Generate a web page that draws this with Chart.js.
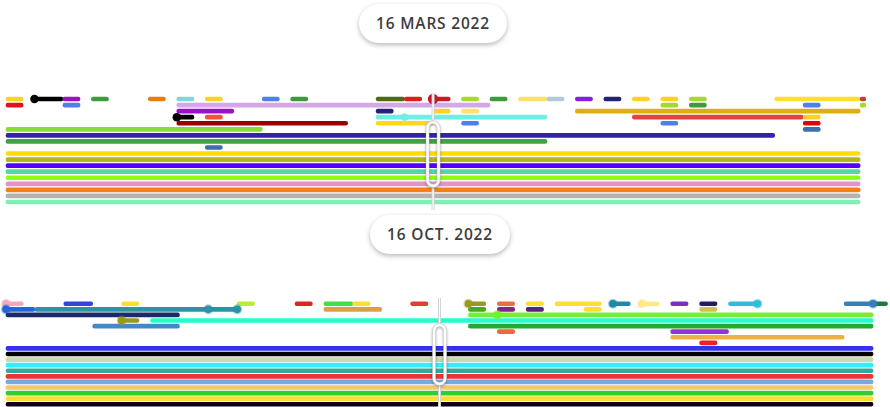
<!DOCTYPE html>
<html>
<head>
<meta charset="utf-8">
<script src="https://cdn.jsdelivr.net/npm/chart.js@4.4.0/dist/chart.umd.min.js"></script>
<style>
body{margin:0;background:#fff;width:890px;height:407px;overflow:hidden;position:relative;font-family:"Open Sans",sans-serif}
canvas{position:absolute;left:0}
#topChart{top:90px}
#bottomChart{top:296px}
.pill{position:absolute;height:39px;line-height:39px;border-radius:20px;background:#fff;box-shadow:0 2px 5px rgba(0,0,0,.28);text-align:center;font-size:15.5px;font-weight:600;color:#3d3d3d;letter-spacing:.8px}
</style>
</head>
<body>
<div class="pill" style="left:359px;top:4px;width:148px">16 MARS 2022</div>
<div class="pill" style="left:370px;top:215px;width:140px">16 OCT. 2022</div>
<canvas id="topChart" width="890" height="120"></canvas>
<canvas id="bottomChart" width="890" height="111"></canvas>
<script>
// time axis runs 0..30, the cursor (selected date) sits at 15
const cursorValue = 15;

// ---- top timeline (16 mars 2022) ----
const topRows = ['r0','r1','r2','r3','r4','r5','r6','r7','r8','r9','r10','r11','r12','r13','r14','r15','r16','r17'];
// [row, start, end]
const topSpans = [
  [0,0,0.6],[0,1,2],[0,2,2.6],[0,3,3.6],[0,5,5.6],[0,6,6.6],[0,7,7.6],[0,9,9.6],[0,10,10.6],[0,13,14],[0,14,14.6],
  [0,15,15.6],[0,16,16.6],[0,17,17.6],[0,18,19],[0,19,19.6],[0,20,20.6],[0,21,21.6],[0,22,22.6],[0,23,23.6],[0,24,24.6],
  [0,27,30],[0,30,30.2],
  [1,0,0.6],[1,2,2.6],[1,6,17],[1,23,23.6],[1,24,24.6],[1,28,28.6],[1,30,30.2],
  [2,6,8],[2,13,13.6],[2,15,15.6],[2,16,16.6],[2,20,30],
  [3,6,6.6],[3,7,7.6],[3,13,19],[3,22,28],[3,28,28.6],
  [4,6,12],[4,13,15],[4,16,16.6],[4,23,23.6],[4,28,28.6],
  [5,0,9],[5,28,28.6],
  [6,0,27],
  [7,0,19],
  [8,7,7.6],
  [9,0,30],[10,0,30],[11,0,30],[12,0,30],[13,0,30],[14,0,30],[15,0,30],[16,0,30],[17,0,30]
];
const topSpanColors = [
  '#ffd21f','#000000','#a010c0','#3d9a3d','#ee7a12','#7fd6dc','#ffd21f','#4f7fe8','#3d9a3d','#4f6b12','#e21a1a',
  '#c8182a','#a8d82a','#3d9a3d','#ffe066','#b4c8dc','#8a1ee0','#22227a','#ffd21f','#ffd21f','#a8d82a',
  '#ffe02a','#c0403a',
  '#e8101a','#4f7fe8','#d4a8e6','#a8d82a','#3d9a3d','#4f7fe8','#a8d82a',
  '#9a10c8','#22227a','#ffd21f','#ffe070','#dcb00e',
  '#000000','#ee5533','#6eeee4','#e84040','#ffd21f',
  '#990000','#ffd81a','#4f7fe8','#4f7fe8','#e00010',
  '#88dd33','#3a70b0',
  '#3322aa',
  '#44a044',
  '#3a70b0',
  '#ffdd00','#b5b31e','#5500ff','#55d6a8','#8cff14','#e690cc','#f58014','#b4b4b4','#7ef0b4'
];
// [row, time]
const topDots = [[0,1],[0,15],[3,6],[3,14]];
const topDotColors = ['#000000','#c8182a','#000000','#6eeee4'];
const topDotSizes = [4.3,5.2,4.3,3.6];

// ---- bottom timeline (16 oct. 2022) ----
const bottomRows = ['r0','r1','r2','r3','r4','r5','r6','r7','r8','r9','r10','r11','r12','r13','r14','r15','r16','r17','r18'];
const bottomSpans = [
  [0,0,0.6],[0,2,3],[0,4,4.6],[0,8,8.6],[0,10,10.6],[0,11,12],[0,12,12.6],[0,14,14.6],[0,16,16.6],[0,17,17.6],
  [0,18,18.6],[0,19,20.6],[0,21,21.6],[0,22,22.6],[0,23,23.6],[0,24,24.6],[0,25,26],[0,29,30],[0,30,30.5],
  [1,0,1],[1,1,8],[1,11,13],[1,16,16.6],[1,17,17.6],[1,18,18.6],[1,20,20.6],[1,24,24.6],
  [2,0,6],[2,16,30],
  [3,4,4.6],[3,5,30],
  [4,3,6],[4,16,30],
  [5,17,17.6],[5,23,25],
  [6,23,29],
  [7,24,24.6],
  [8,0,30],[9,0,30],[10,0,30],[11,0,30],[12,0,30],[13,0,30],[14,0,30],[15,0,30],[16,0,30],[17,0,30],[18,0,30]
];
const bottomSpanColors = [
  '#f4a8c0','#3344dd','#ffdd33','#bbee33','#e82020','#44dd44','#ffdd33','#e04030','#9a9a20','#e87040',
  '#ffdd33','#ffdd33','#2288aa','#ffe888','#7733bb','#221a66','#33bbdd','#3380bb','#227744',
  '#2266dd','#2a93a5','#dda040','#44aa22','#882288','#552288','#ffdd33','#d4c050',
  '#1a2a6a','#77ee33',
  '#999922','#22ffcc',
  '#4488cc','#22aa33',
  '#ee6644','#9933cc',
  '#eeb040',
  '#ee2222',
  '#3333ee','#000000','#c8d8b0','#33eeff','#33aa99','#ee3333','#77aadd','#f5c870','#33cc33','#ffdd33','#110011'
];
const bottomDots = [[0,0],[0,16],[0,21],[0,22],[0,26],[0,30],[1,0],[1,7],[1,8],[2,17],[3,4]];
const bottomDotColors = ['#f4a8c0','#9a9a20','#2288aa','#ffe888','#33bbdd','#3380bb','#2266dd','#2a93a5','#2a93a5','#77ee33','#999922'];

// draws the date cursor: a line with a hollow pill handle
const cursorPlugin = {
  id: 'cursor',
  afterDatasetsDraw(chart, args, opts) {
    const ctx = chart.ctx;
    const x = chart.scales.x.getPixelForValue(opts.value);
    const hTop = chart.scales.y.getPixelForValue(4) - 1;
    const hBot = chart.scales.y.getPixelForValue(14) + 2;
    ctx.save();
    const line = (a, b) => {
      ctx.beginPath(); ctx.moveTo(x, a); ctx.lineTo(x, b);
      ctx.strokeStyle = '#cfcfcf'; ctx.lineWidth = 3; ctx.stroke();
      ctx.strokeStyle = '#ffffff'; ctx.lineWidth = 1.2; ctx.stroke();
    };
    line(chart.chartArea.top - 3, hTop);
    line(hBot, chart.height);
    ctx.beginPath();
    ctx.roundRect(x - 5.5, hTop, 11, hBot - hTop, 5.5);
    ctx.shadowColor = 'rgba(0,0,0,0.35)';
    ctx.shadowBlur = 3;
    ctx.shadowOffsetY = 1;
    ctx.strokeStyle = '#d4d4d4'; ctx.lineWidth = 3.5; ctx.stroke();
    ctx.shadowColor = 'transparent';
    ctx.strokeStyle = '#ffffff'; ctx.lineWidth = 2.2; ctx.stroke();
    ctx.restore();
  }
};

const makeTimeline = (id, rows, spans, spanColors, dots, dotColors, dotSizes, halo, xMax, padding) => {
  new Chart(document.getElementById(id), {
    type: 'bar',
    data: {
      labels: rows,
      datasets: [{
        type: 'bar',
        order: 1,
        data: spans.map(s => ({x: [s[1], s[2]], y: rows[s[0]]})),
        backgroundColor: spanColors,
        barThickness: 4,
        borderRadius: 2,
        borderSkipped: false,
        clip: false
      }, {
        type: 'scatter',
        order: 0,
        data: dots.map(d => ({x: d[1], y: rows[d[0]]})),
        pointBackgroundColor: dotColors,
        pointBorderColor: halo ? dotColors.map(c => c + '66') : dotColors,
        pointBorderWidth: halo ? 2.4 : 0,
        pointRadius: dotSizes,
        clip: false
      }]
    },
    options: {
      indexAxis: 'y',
      responsive: false,
      animation: false,
      events: [],
      layout: {padding: padding, autoPadding: false},
      scales: {
        x: {type: 'linear', min: 0, max: xMax, display: false},
        y: {type: 'category', display: false}
      },
      plugins: {
        legend: {display: false},
        tooltip: {enabled: false},
        cursor: {value: cursorValue}
      }
    },
    plugins: [cursorPlugin]
  });
};

window.onload = () => {
  makeTimeline('topChart', topRows, topSpans, topSpanColors, topDots, topDotColors, topDotSizes, false,
    31, {left: 6, right: 1.4, top: 6, bottom: 5});
  makeTimeline('bottomChart', bottomRows, bottomSpans, bottomSpanColors, bottomDots, bottomDotColors,
    bottomDots.map(() => 3.8), true, 30.5, {left: 6, right: 2.5, top: 5, bottom: 0});
};
</script>
</body>
</html>
